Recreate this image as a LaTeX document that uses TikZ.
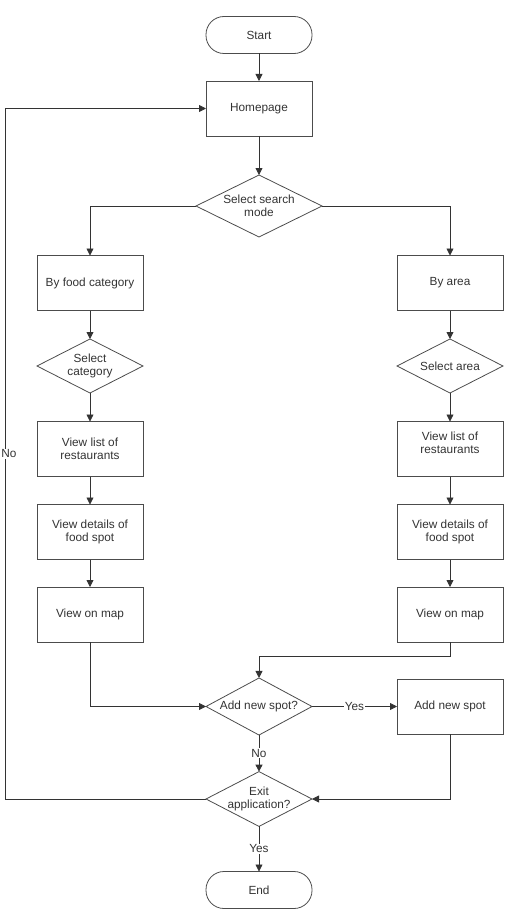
\documentclass[tikz,border=0pt]{standalone}
\usepackage{fontspec}
\setmainfont{Liberation Sans}
\usetikzlibrary{shapes.geometric,arrows.meta}

\begin{document}
\begin{tikzpicture}[
        x=1pt, y=-1pt,
        font=\fontsize{11.8}{12.8}\selectfont,
        process/.style={rectangle, draw=black!70, line width=0.8pt, text=black!80, align=center, minimum width=106pt, minimum height=55pt, inner sep=0pt, outer sep=0pt},
        terminal/.style={process, rounded corners=18pt, minimum height=37pt},
        decision/.style={diamond, draw=black!70, line width=0.8pt, text=black!80, align=center, minimum width=106pt, minimum height=54pt, inner sep=-8pt, outer sep=0pt},
        flow/.style={draw=black!80, line width=0.8pt, -{Triangle[length=7pt,width=7pt]}},
        answer/.style={fill=white, text=black!80, inner sep=1pt}
    ]
        \useasboundingbox (0,0) rectangle (506,915);

        % Main column
        \node[terminal] (start) at (259,35) {Start};
        \node[process] (home) at (259,108.5) {Homepage};
        \node[decision, minimum width=126pt, minimum height=62pt] (mode) at (259,206) {Select search\\mode};

        % Left branch
        \node[process] (food) at (90,283) {By food category};
        \node[decision] (category) at (90,366) {Select\\category};
        \node[process] (listL) at (90,449) {View list of\\restaurants};
        \node[process] (detailsL) at (90,532) {View details of\\food spot};
        \node[process] (mapL) at (90,614.5) {View on map};

        % Right branch
        \node[process] (area) at (450,283) {By area};
        \node[decision] (selarea) at (450,366) {Select area};
        \node[process] (listR) at (450,449) {View list of\\restaurants\\[0pt]};
        \node[process] (detailsR) at (450,532) {View details of\\food spot};
        \node[process] (mapR) at (450,614.5) {View on map};

        % Bottom
        \node[decision] (addq) at (259,706.5) {Add new spot?};
        \node[process] (addspot) at (450,706.5) {Add new spot};
        \node[decision] (exitq) at (259,799) {Exit\\application?};
        \node[terminal] (finish) at (259,890) {End};

        \coordinate (mergeR) at (259,656);
        \coordinate (noturn) at (5,799);

        % Edges
        \draw[flow] (start) -- (home);
        \draw[flow] (home) -- (mode);
        \draw[flow] (mode.west) -| (food.north);
        \draw[flow] (mode.east) -| (area.north);
        \draw[flow] (food) -- (category);
        \draw[flow] (category) -- (listL);
        \draw[flow] (listL) -- (detailsL);
        \draw[flow] (detailsL) -- (mapL);
        \draw[flow] (area) -- (selarea);
        \draw[flow] (selarea) -- (listR.north);
        \draw[flow] (listR.south) -- (detailsR);
        \draw[flow] (detailsR) -- (mapR);
        \draw[flow] (mapL.south) |- (addq.west);
        \draw[flow] (mapR.south) |- (mergeR) -- (addq.north);
        \draw[flow] (addq.east) -- node[answer] {Yes} (addspot.west);
        \draw[flow] (addq.south) -- node[answer] {No} (exitq.north);
        \draw[flow] (addspot.south) |- (exitq.east);
        \draw[flow] (exitq.south) -- node[answer] {Yes} (finish.north);
        \draw[flow] (exitq.west) -- (noturn) |- node[answer, pos=0.25, xshift=4pt] {No} (home.west);
\end{tikzpicture}
\end{document}
